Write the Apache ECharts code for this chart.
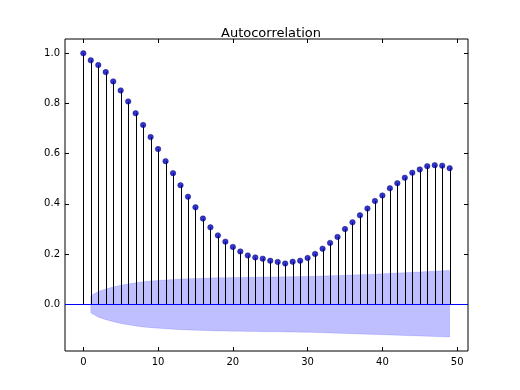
<!DOCTYPE html>
<html>
<head>
<meta charset="utf-8">
<script src="https://cdn.jsdelivr.net/npm/echarts@6/dist/echarts.min.js"></script>
<style>
html,body{margin:0;padding:0;background:#fff;}
#c{width:520px;height:390px;}
</style>
</head>
<body>
<div id="c"></div>
<script>
// ---- data ----
var titleText = 'Autocorrelation';
var lags = [];
for (var i = 0; i < 50; i++) lags.push(i);
var acfValues = [
  1.000, 0.972, 0.953, 0.925, 0.888, 0.852, 0.808, 0.761, 0.714, 0.666,
  0.618, 0.570, 0.522, 0.474, 0.428, 0.386, 0.341, 0.306, 0.274, 0.249,
  0.228, 0.210, 0.194, 0.186, 0.181, 0.173, 0.168, 0.162, 0.169, 0.173,
  0.184, 0.200, 0.221, 0.244, 0.268, 0.299, 0.326, 0.354, 0.381, 0.411,
  0.433, 0.462, 0.482, 0.504, 0.524, 0.537, 0.550, 0.554, 0.552, 0.542
];
var bandLags = lags.slice(1);
var confUpper = [
  0.033, 0.050, 0.060, 0.068, 0.075, 0.080, 0.085, 0.089, 0.092, 0.094,
  0.096, 0.098, 0.100, 0.101, 0.102, 0.103, 0.104, 0.105, 0.105, 0.106,
  0.106, 0.107, 0.107, 0.108, 0.108, 0.108, 0.109, 0.109, 0.110, 0.110,
  0.111, 0.112, 0.113, 0.114, 0.115, 0.116, 0.117, 0.118, 0.119, 0.121,
  0.122, 0.124, 0.125, 0.127, 0.128, 0.130, 0.131, 0.133, 0.134
];
var confLower = [
  -0.034, -0.052, -0.062, -0.070, -0.077, -0.082, -0.087, -0.091, -0.094, -0.096,
  -0.098, -0.100, -0.102, -0.103, -0.104, -0.105, -0.106, -0.107, -0.107, -0.108,
  -0.108, -0.109, -0.109, -0.110, -0.110, -0.110, -0.111, -0.111, -0.112, -0.112,
  -0.113, -0.114, -0.115, -0.116, -0.117, -0.118, -0.119, -0.120, -0.121, -0.122,
  -0.123, -0.124, -0.125, -0.126, -0.127, -0.128, -0.129, -0.130, -0.131
];
var xTicks = [0, 10, 20, 30, 40, 50];
var yTicks = [0.0, 0.2, 0.4, 0.6, 0.8, 1.0];

// ---- chart ----
var chart = echarts.init(document.getElementById('c'), null, {renderer: 'canvas'});
var font = 'DejaVu Sans';
var xMin = -2.45, xMax = 51.45, yMin = -0.187, yMax = 1.057;

var stemData = lags.map(function (l, i) { return [l, acfValues[i]]; });
var bandData = bandLags.map(function (l, i) { return [l, confLower[i], confUpper[i]]; });

function baseX(pos, showLabel) {
  return {
    type: 'value', position: pos, min: xMin, max: xMax,
    axisLine: {show: false, onZero: false},
    splitLine: {show: false},
    axisTick: {show: true, inside: true, length: 4, customValues: xTicks, lineStyle: {color: '#000', width: 1}},
    axisLabel: {show: showLabel, customValues: xTicks, color: '#000', fontFamily: font, fontSize: 10, margin: 6}
  };
}
function baseY(pos, showLabel) {
  return {
    type: 'value', position: pos, min: yMin, max: yMax,
    axisLine: {show: false, onZero: false},
    splitLine: {show: false},
    axisTick: {show: true, inside: true, length: 4, customValues: yTicks, lineStyle: {color: '#000', width: 1}},
    axisLabel: {show: showLabel, customValues: yTicks, color: '#000', fontFamily: font, fontSize: 10, margin: 5,
      formatter: function (v) { return v.toFixed(1); }}
  };
}

var option = {
  animation: false,
  backgroundColor: '#fff',
  title: {
    text: titleText, left: 266, top: 22, textAlign: 'center',
    textStyle: {fontFamily: font, fontSize: 13, fontWeight: 'normal', color: '#000'}
  },
  grid: {left: 65, right: 52, top: 39, bottom: 39, show: true, borderColor: '#000', borderWidth: 1, backgroundColor: 'transparent'},
  xAxis: [baseX('bottom', true), baseX('top', false)],
  yAxis: [baseY('left', true), baseY('right', false)],
  series: [
    {
      type: 'custom', name: 'band', z: 1,
      data: bandData,
      renderItem: function (params, api) {
        if (params.dataIndex !== 0) return null;
        var pts = [];
        for (var i = 0; i < bandData.length; i++) pts.push(api.coord([bandData[i][0], bandData[i][2]]));
        for (var j = bandData.length - 1; j >= 0; j--) pts.push(api.coord([bandData[j][0], bandData[j][1]]));
        return {type: 'polygon', shape: {points: pts}, style: {fill: 'rgba(0,0,255,0.25)', stroke: 'rgba(0,0,255,0.25)', lineWidth: 0.5}};
      },
      encode: {x: 0, y: [1, 2]}
    },
    {
      type: 'custom', name: 'stems', z: 2,
      data: stemData,
      renderItem: function (params, api) {
        var p0 = api.coord([api.value(0), 0]);
        var p1 = api.coord([api.value(0), api.value(1)]);
        var x = Math.round(p0[0]) + 0.5;
        return {type: 'line', shape: {x1: x, y1: p0[1], x2: x, y2: p1[1]}, style: {stroke: '#000', lineWidth: 1}};
      },
      encode: {x: 0, y: 1}
    },
    {
      type: 'line', name: 'zero', z: 3, data: [], silent: true,
      markLine: {
        silent: true, symbol: ['none', 'none'], label: {show: false},
        lineStyle: {color: '#0000ff', width: 1, type: 'solid'},
        data: [{yAxis: 0}]
      }
    },
    {
      type: 'scatter', name: 'acf', z: 4,
      data: stemData,
      symbol: 'circle', symbolSize: 5.5,
      itemStyle: {color: '#0000c0', borderColor: '#00005a', borderWidth: 0.5}
    }
  ]
};
chart.setOption(option);
</script>
</body>
</html>
